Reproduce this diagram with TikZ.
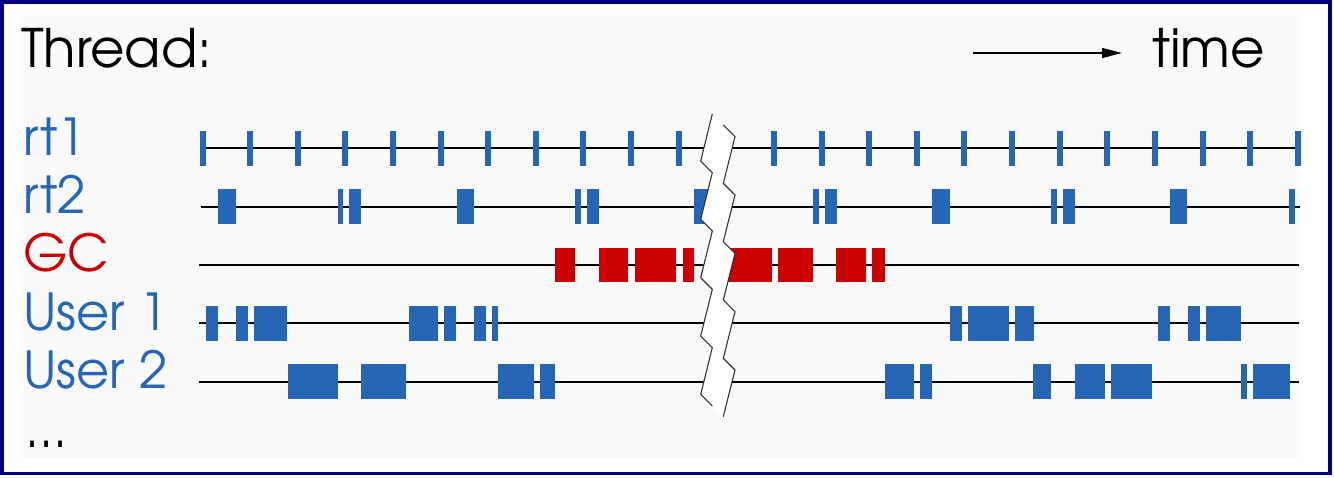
\documentclass[tikz,border=0pt]{standalone}
\usepackage{fontspec}
\setmainfont{TeX Gyre Adventor}
\usetikzlibrary{arrows.meta}
\definecolor{tblue}{RGB}{38,102,182}
\definecolor{tred}{RGB}{204,0,0}
\definecolor{navyb}{RGB}{0,0,128}
\definecolor{panel}{RGB}{250,250,250}
\newcommand{\blueblk}[3]{\fill[bluebar] (#2,#1-17.3) rectangle (#3,#1+17.3);}
\newcommand{\redblk}[3]{\fill[redbar] (#2,#1-17.3) rectangle (#3,#1+17.3);}
\begin{document}
\begin{tikzpicture}[x=1pt,y=-1pt,
  bluebar/.style={fill=tblue},
  redbar/.style={fill=tred},
  timeline/.style={line width=2.2pt,black},
  zig/.style={line width=1.1pt,black!80},
  lbl/.style={anchor=base west,inner sep=0pt,font=\fontsize{51}{51}\selectfont,text=tblue},
  head/.style={anchor=base west,inner sep=0pt,font=\fontsize{53}{53}\selectfont,text=black}]
\useasboundingbox (0,0) rectangle (1334,477);
\fill[white] (0,0) rectangle (1334,477);
\fill[panel] (20,15) rectangle (1300,458);
\draw[navyb,line width=3.5pt] (1.75,1.75) rectangle (1330,473.5);
% labels
\node[head] (thread) at (21,67) {Thread:};
\node[head] (time) at (1152,67) {time};
\coordinate (arrS) at (973,53);
\coordinate (arrE) at (1122,53);
\draw[line width=1.4pt,-{Triangle[length=20pt,width=10pt]}] (arrS) -- (arrE);
\node[lbl] (rt1) at (23,155) {rt1};
\node[lbl] (rt2) at (23,213) {rt2};
\node[lbl,text=tred] (gc) at (23,271) {GC};
\node[lbl] (u1) at (23,330) {User 1};
\node[lbl] (u2) at (23,388) {User 2};
\node[lbl,text=black] (dots) at (25,447) {...};
% timelines
\draw[timeline] (202,148.3) -- (1300,148.3);
\draw[timeline] (201,206.7) -- (1300,206.7);
\draw[timeline] (199,265) -- (1299,265);
\draw[timeline] (199,323.3) -- (1299,323.3);
\draw[timeline] (199,381.7) -- (1299,381.7);
% rt1 ticks
\foreach \i in {0,...,10,12,13,...,23}{
  \pgfmathsetmacro{\xc}{202.5+47.62*\i}
  \fill[bluebar] (\xc-3,148.3-17.3) rectangle (\xc+3,148.3+17.3);
}
% rt2
\foreach \a/\b in {218/236,337.5/343,349/361,457/474,575/581,587/599,694/712,813/819,825/837,932/950,1051/1057,1063/1075,1170/1187,1289/1295}{
  \blueblk{206.7}{\a}{\b}
}
% GC
\foreach \a/\b in {555/575,599/628,635/676,682.5/694,715/771.5,777.6/812.5,836/866,872/884.5}{
  \redblk{265}{\a}{\b}
}
% User 1
\foreach \a/\b in {206/218,236/248,253.6/287,408.6/438,444/456,474/486,492/497.5,950/961.6,967.6/1009,1015/1033.5,1158/1170,1188/1200,1205.5/1241}{
  \blueblk{323.3}{\a}{\b}
}
% User 2
\foreach \a/\b in {287.5/337.5,361/406,498/533.6,539.6/555,884.5/914,920/932,1032.7/1050.8,1074.5/1104.6,1110.6/1152,1241/1247,1253/1289.5}{
  \blueblk{381.7}{\a}{\b}
}
% break
\fill[white] (712.3,114) -- (700.7,161) -- (712.3,172.7) -- (700.7,219.3) -- (712.3,231) -- (700.7,277.7) -- (712.3,289.3) -- (700.7,336) -- (712.3,347.7) -- (700.7,394.3) -- (712.3,406)
  -- (723.3,416.7) -- (735,370) -- (723.3,358.3) -- (735,311.7) -- (723.3,300) -- (735,253.3) -- (723.3,241.7) -- (735,195) -- (723.3,183.3) -- (735,136.7) -- (723.3,125) -- cycle;
\draw[zig] (712.3,114) -- (700.7,161) -- (712.3,172.7) -- (700.7,219.3) -- (712.3,231) -- (700.7,277.7) -- (712.3,289.3) -- (700.7,336) -- (712.3,347.7) -- (700.7,394.3) -- (712.3,406);
\draw[zig] (723.3,125) -- (735,136.7) -- (723.3,183.3) -- (735,195) -- (723.3,241.7) -- (735,253.3) -- (723.3,300) -- (735,311.7) -- (723.3,358.3) -- (735,370) -- (723.3,416.7);
\end{tikzpicture}
\end{document}
